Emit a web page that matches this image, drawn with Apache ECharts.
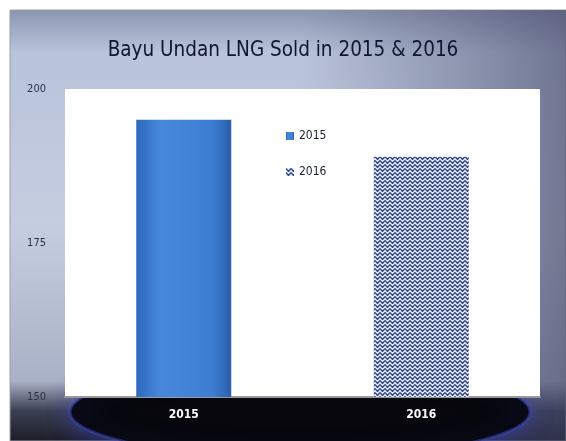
<!DOCTYPE html>
<html>
<head>
<meta charset="utf-8">
<title>Bayu Undan LNG Sold</title>
<script src="https://cdn.jsdelivr.net/npm/echarts@6/dist/echarts.min.js"></script>
<style>
  html, body { margin: 0; padding: 0; background: #fff; }
  #chart { width: 566px; height: 441px; }
</style>
</head>
<body>
<div id="chart"></div>
<script>
// data
var years = ['2015', '2016'];
var sold2015 = [195, '-'];
var sold2016 = ['-', 189];
var yTicks = [150, 175, 200];

var narrow = '"DejaVu Sans Condensed", "Liberation Sans Narrow", sans-serif';

// zigzag fill for the 2016 bar
function zigzag() {
	var c = document.createElement('canvas');
	c.width = 5; c.height = 4;
	var ctx = c.getContext('2d');
	ctx.fillStyle = '#e2e9f5';
	ctx.fillRect(0, 0, 5, 4);
	ctx.strokeStyle = '#2f4280';
	ctx.lineWidth = 1.2;
	ctx.beginPath();
	ctx.moveTo(0, 0.5);
	ctx.lineTo(2.5, 3.5);
	ctx.lineTo(5, 0.5);
	ctx.stroke();
	return c;
}

var chart = echarts.init(document.getElementById('chart'));

var option = {
	backgroundColor: '#ffffff',
	animation: false,
	graphic: [
		{ // frame background
			type: 'rect', z: -10, silent: true,
			shape: { x: 10, y: 10, width: 556, height: 431 },
			style: {
				fill: {
					type: 'linear', x: 0, y: 0, x2: 0, y2: 1,
					colorStops: [
						{ offset: 0, color: '#8c95b0' },
						{ offset: 0.1, color: '#b9c3da' },
						{ offset: 0.5, color: '#c5cde0' },
						{ offset: 0.86, color: '#a9b1c6' },
						{ offset: 0.93, color: '#3a3e50' },
						{ offset: 1, color: '#1c1d28' }
					]
				},
				stroke: '#9a9ea8', lineWidth: 1
			}
		},
		{ // right side darker
			type: 'rect', z: -9, silent: true,
			shape: { x: 300, y: 10, width: 266, height: 431 },
			style: {
				fill: {
					type: 'linear', x: 0, y: 0, x2: 1, y2: 0,
					colorStops: [
						{ offset: 0, color: 'rgba(70,76,110,0)' },
						{ offset: 1, color: 'rgba(60,64,96,0.6)' }
					]
				}
			}
		},
		{ // dark planet with soft blue rim at the bottom
			type: 'ellipse', z: -8, silent: true,
			shape: { cx: 300, cy: 412, rx: 230, ry: 46 },
			style: {
				fill: '#07070d',
				stroke: 'rgba(60,70,175,0.55)',
				lineWidth: 3,
				shadowBlur: 26,
				shadowColor: 'rgba(60,70,190,0.8)'
			}
		}
	],
	title: {
		text: 'Bayu Undan LNG Sold in 2015 & 2016',
		left: 'center',
		top: 35,
		textStyle: {
			fontFamily: narrow,
			fontSize: 20.5,
			fontWeight: 'normal',
			color: '#111630'
		}
	},
	legend: {
		orient: 'vertical',
		left: 281,
		top: 125,
		itemGap: 24,
		itemWidth: 8,
		itemHeight: 8,
		icon: 'rect',
		textStyle: {
			fontFamily: narrow,
			fontSize: 12,
			color: '#1a2030'
		},
		data: years
	},
	grid: {
		left: 65, right: 26, top: 89, bottom: 44,
		show: true, backgroundColor: '#ffffff', borderWidth: 0
	},
	xAxis: {
		type: 'category',
		data: years,
		axisTick: { show: false },
		axisLine: { lineStyle: { color: '#9a9a9a', width: 2 } },
		axisLabel: {
			margin: 12,
			color: '#ffffff',
			fontWeight: 'bold',
			fontSize: 12,
			fontFamily: narrow
		}
	},
	yAxis: {
		type: 'value',
		min: yTicks[0],
		max: yTicks[yTicks.length - 1],
		interval: 25,
		splitLine: { show: false },
		axisLine: { show: false },
		axisTick: { show: false },
		axisLabel: {
			margin: 19,
			color: '#2c3348',
			fontSize: 11,
			fontFamily: narrow
		}
	},
	series: [
		{
			name: '2015',
			type: 'bar',
			barWidth: 95,
			barGap: '-100%',
			data: sold2015,
			itemStyle: {
				color: {
					type: 'linear', x: 0, y: 0, x2: 1, y2: 0,
					colorStops: [
						{ offset: 0, color: '#2d68bc' },
						{ offset: 0.25, color: '#4788da' },
						{ offset: 0.8, color: '#3e7ed2' },
						{ offset: 1, color: '#2a5eac' }
					]
				}
			}
		},
		{
			name: '2016',
			type: 'bar',
			barWidth: 95,
			data: sold2016,
			itemStyle: {
				color: { image: zigzag(), repeat: 'repeat' }
			}
		}
	]
};

chart.setOption(option);
</script>
</body>
</html>
